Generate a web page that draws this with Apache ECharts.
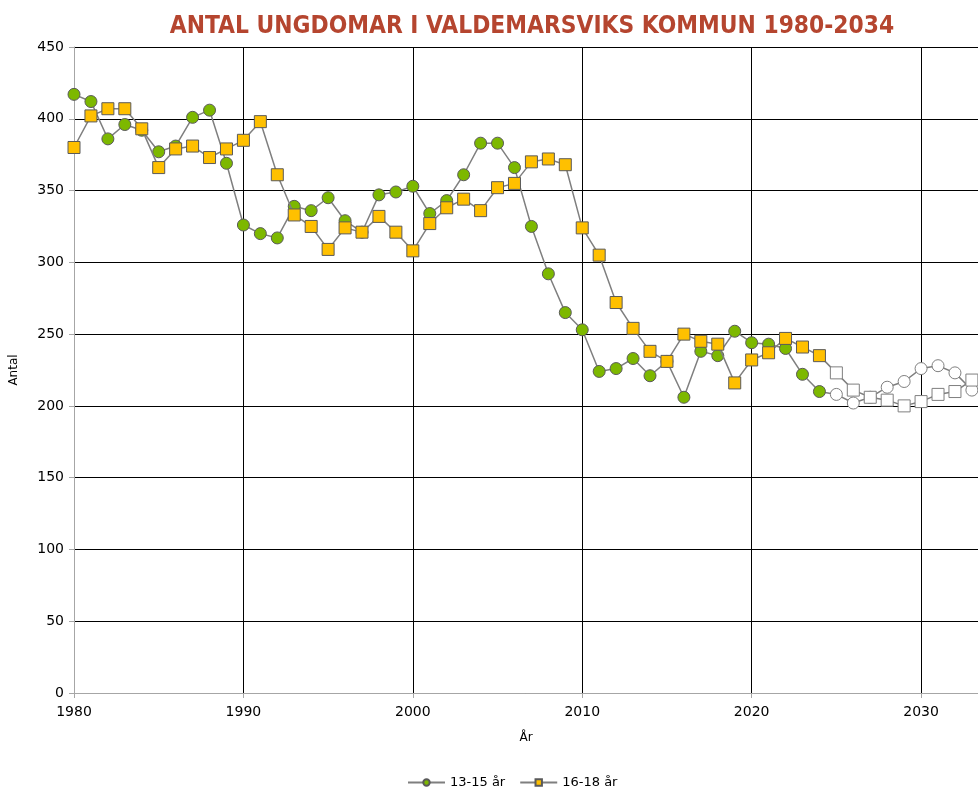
<!DOCTYPE html>
<html>
<head>
<meta charset="utf-8">
<script src="https://cdn.jsdelivr.net/npm/echarts@6/dist/echarts.min.js"></script>
<style>
html,body{margin:0;padding:0;background:#fff;}
#chart{width:978px;height:789px;}
</style>
</head>
<body>
<div id="chart"></div>
<script>
const titleText = 'ANTAL UNGDOMAR I VALDEMARSVIKS KOMMUN 1980-2034';
const years = [1980,1981,1982,1983,1984,1985,1986,1987,1988,1989,
  1990,1991,1992,1993,1994,1995,1996,1997,1998,1999,
  2000,2001,2002,2003,2004,2005,2006,2007,2008,2009,
  2010,2011,2012,2013,2014,2015,2016,2017,2018,2019,
  2020,2021,2022,2023,2024,2025,2026,2027,2028,2029,
  2030,2031,2032,2033];
const age13to15 = [417,412,386,396,392,377,381,401,406,369,
  326,320,317,339,336,345,329,321,347,349,
  353,334,343,361,383,383,366,325,292,265,
  253,224,226,233,221,231,206,238,235,252,
  244,243,240,222,210,208,202,206,213,217,
  226,228,223,211];
const age16to18 = [380,402,407,407,393,366,379,381,373,379,
  385,398,361,333,325,309,324,321,332,321,
  308,327,338,344,336,352,355,370,372,368,
  324,305,272,254,238,231,250,245,243,216,
  232,237,247,241,235,223,211,206,204,200,
  203,208,210,218];
const firstForecastYear = 2025;
const seriesNames = ['13-15 år', '16-18 år'];
const yTicks = {min:0, max:450, interval:50};
// visible window ends part-way through 2033 (chart is cropped at the right)
const xTicks = {min:1980, max:2033.36, interval:10};

function build(vals){
  return years.map((y,i)=>{
    const item = {value:[y, vals[i]]};
    if (y >= firstForecastYear) item.itemStyle = {color:'#ffffff', borderColor:'#7f7f7f'};
    return item;
  });
}

const labelFont = "'DejaVu Sans', sans-serif";
const chart = echarts.init(document.getElementById('chart'));
chart.setOption({
  animation:false,
  backgroundColor:'#fff',
  title:{text:titleText, left:527, top:10, textAlign:'center',
    textStyle:{fontFamily:"'Liberation Sans Narrow','DejaVu Sans Condensed','DejaVu Sans',sans-serif", fontWeight:'bold', fontSize:24.3, color:'#B5452F'}},
  legend:{top:771, left:402, itemWidth:37, itemHeight:8, itemGap:14,
    textStyle:{fontFamily:labelFont, fontSize:13, color:'#000'},
    data:seriesNames},
  grid:{left:73, top:47, bottom:96, right:0},
  xAxis:{type:'value', min:xTicks.min, max:xTicks.max, interval:xTicks.interval,
    name:'År', nameLocation:'middle', nameGap:39,
    nameTextStyle:{fontFamily:labelFont, fontSize:12, color:'#000'},
    axisLine:{lineStyle:{color:'#a6a6a6', width:1}},
    axisTick:{show:true, length:5, lineStyle:{color:'#a6a6a6'}},
    axisLabel:{fontFamily:labelFont, fontSize:14, color:'#000', margin:12,
      showMaxLabel:false,
      formatter:v=>(v%10===0?String(v):'')},
    splitLine:{show:true, lineStyle:{color:'#000', width:1}}},
  yAxis:{type:'value', min:yTicks.min, max:yTicks.max, interval:yTicks.interval,
    name:'Antal', nameLocation:'middle', nameGap:54, nameRotate:90,
    nameTextStyle:{fontFamily:labelFont, fontSize:12, color:'#000'},
    axisLine:{show:true, lineStyle:{color:'#a6a6a6', width:1}},
    axisTick:{show:true, length:5, lineStyle:{color:'#a6a6a6'}},
    axisLabel:{fontFamily:labelFont, fontSize:14, color:'#000', margin:10},
    splitLine:{show:true, lineStyle:{color:'#000', width:1}}},
  series:[
    {name:seriesNames[0], type:'line', data:build(age13to15), symbol:'circle', symbolSize:12,
      lineStyle:{color:'#7f7f7f', width:1.5},
      itemStyle:{color:'#7DB800', borderColor:'#5a5a5a', borderWidth:1}, z:2},
    {name:seriesNames[1], type:'line', data:build(age16to18), symbol:'rect', symbolSize:12,
      lineStyle:{color:'#7f7f7f', width:1.5},
      itemStyle:{color:'#FFC000', borderColor:'#5a5a5a', borderWidth:1}, z:3}
  ]
});
</script>
</body>
</html>
